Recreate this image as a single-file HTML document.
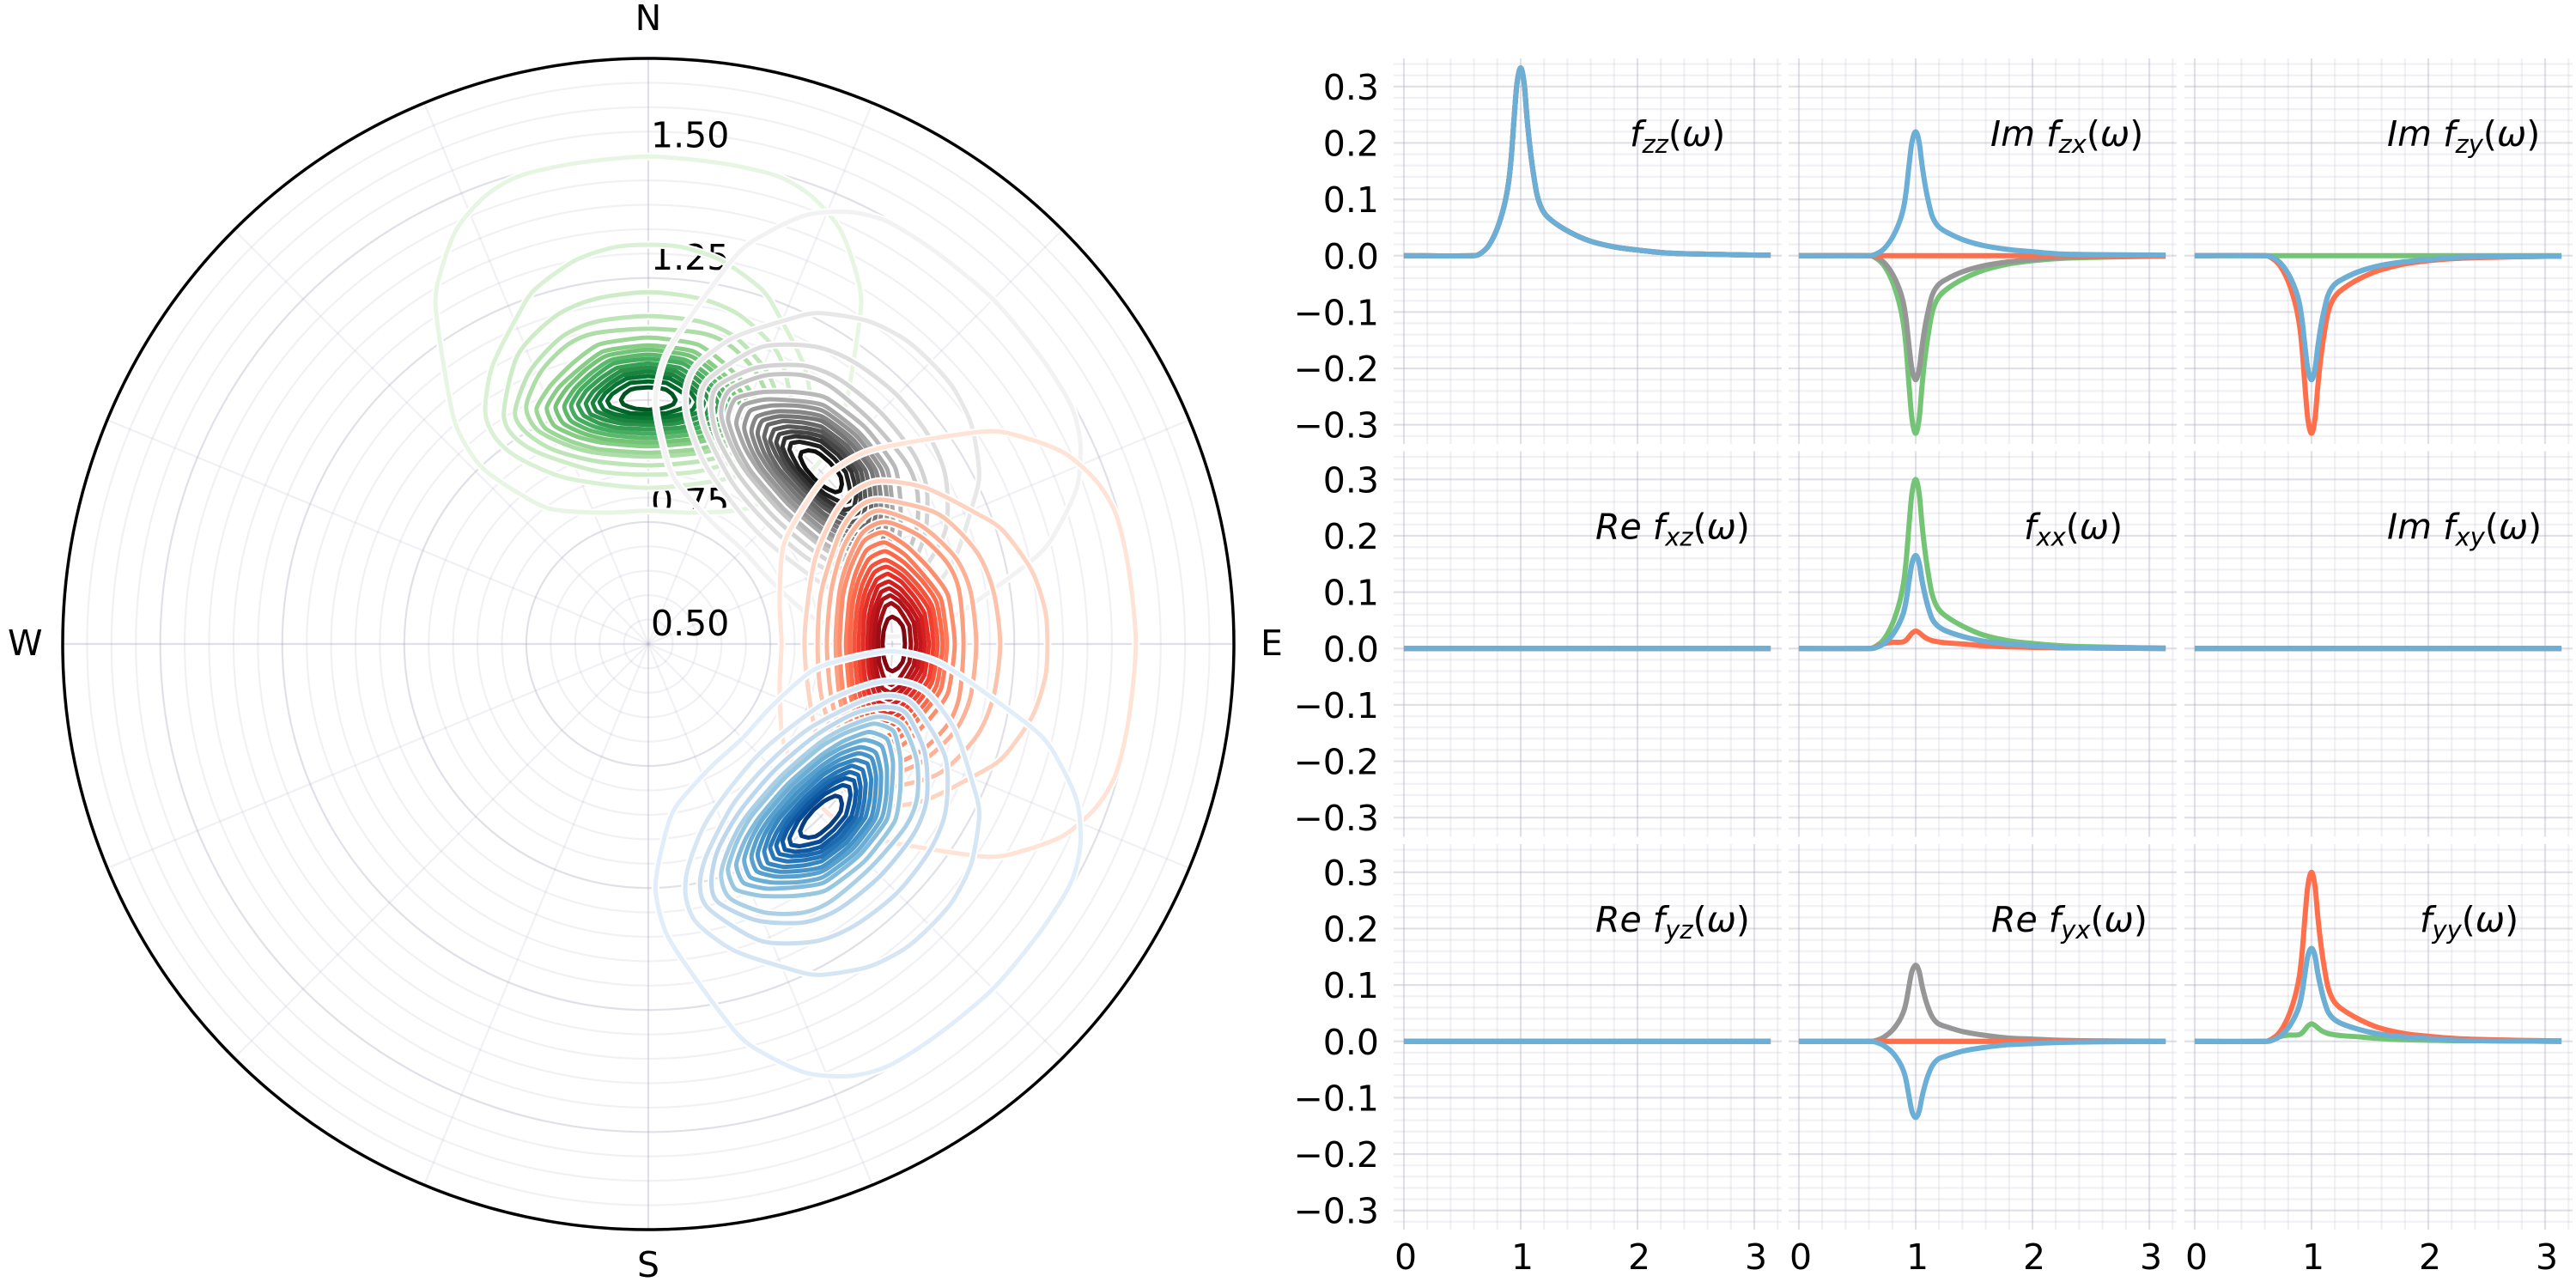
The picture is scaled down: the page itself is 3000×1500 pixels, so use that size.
<!DOCTYPE html>
<html lang="en">
<head>
<meta charset="utf-8">
<title>Polar density contours and frequency response grid</title>
<style>
html,body{margin:0;padding:0;background:#fff;}
svg{display:block;}
text{font-family:"DejaVu Sans","Liberation Sans",sans-serif;fill:#000;}
</style>
</head>
<body>
<svg id="figure" xmlns="http://www.w3.org/2000/svg" width="3000" height="1500" viewBox="0 0 3000 1500">
  <rect x="0" y="0" width="3000" height="1500" fill="#ffffff"/>
  <g id="polar"></g>
  <g id="panels"></g>
</svg>
<script>
/* ---------- polar chart data ---------- */
const radialTickValues = [0.5, 0.75, 1.0, 1.25, 1.5];
const radialTickLabels = ["0.50", "0.75", "1.00", "1.25", "1.50"];
const compassNames = ["N", "E", "S", "W"];
const blobNames = ["green", "grey", "red", "blue"];
const blobAzimuths = [0, 45, 90, 135];
/* half-contours, outermost level first: distance across the blob axis (radial units) */
const contourAcross = [
  [0,.15,.264,.334,.391,.422,.436,.412,.391,.343,.264,.197,.088,0],
  [0,.07,.15,.232,.267,.32,.334,.313,.267,.167,0],
  [0,.109,.19,.267,.296,.278,.225,.109,0],
  [0,.109,.179,.243,.273,.252,.197,.109,0],
  [0,.109,.167,.22,.25,.229,.172,.109,0],
  [0,.1,.153,.2,.229,.211,.158,.1,0],
  [0,.091,.139,.183,.208,.192,.143,.091,0],
  [0,.084,.127,.167,.19,.174,.132,.084,0],
  [0,.076,.116,.151,.172,.158,.12,.076,0],
  [0,.07,.106,.139,.158,.146,.109,.07,0],
  [0,.063,.097,.127,.144,.132,.1,.063,0],
  [0,.056,.086,.113,.128,.118,.088,.056,0],
  [0,.051,.077,.1,.114,.106,.079,.051,0],
  [0,.044,.067,.088,.1,.091,.069,.044,0],
  [0,.037,.056,.074,.084,.077,.058,.037,0],
  [0,.025,.037,.049,.056,.051,.039,.025,0]
];
/* matching radial coordinate along the blob axis */
const contourRho = [
  [1.499,1.485,1.459,1.418,1.353,1.274,1.195,1.028,.94,.864,.808,.776,.769,.773],
  [1.318,1.313,1.286,1.227,1.174,1.068,.975,.922,.882,.84,.82],
  [1.221,1.207,1.172,1.093,.975,.928,.892,.855,.847],
  [1.172,1.16,1.128,1.058,.975,.935,.899,.875,.866],
  [1.146,1.137,1.112,1.058,.987,.94,.91,.892,.884],
  [1.128,1.114,1.077,1.03,.982,.942,.915,.899,.892],
  [1.112,1.1,1.066,1.026,.984,.947,.924,.912,.905],
  [1.103,1.091,1.063,1.024,.986,.952,.931,.919,.913],
  [1.093,1.082,1.056,1.023,.987,.957,.938,.928,.922],
  [1.084,1.075,1.051,1.021,.989,.963,.945,.936,.931],
  [1.075,1.066,1.045,1.019,.991,.968,.952,.943,.94],
  [1.066,1.059,1.04,1.017,.993,.971,.959,.952,.949],
  [1.058,1.051,1.035,1.015,.994,.977,.966,.959,.956],
  [1.049,1.044,1.031,1.014,.996,.98,.971,.966,.963],
  [1.038,1.035,1.024,1.012,.998,.986,.979,.973,.971],
  [1.026,1.024,1.021,1.012,1.0,.991,.986,.982,.98]
];

/* ---------- spectrum panel data ---------- */
const omega = [0,.6,.65,.723,.797,.858,.895,.919,.944,.968,1,1.03,1.054,1.078,1.103,1.14,1.189,1.262,1.409,1.58,1.79,2,2.24,2.52,3.14];
const zeroValues = [0,0,0,0,0,0,0,0,0,0,0,0,0,0,0,0,0,0,0,0,0,0,0,0,0];
const fzzValues = [0,0,.003,.017,.047,.088,.128,.174,.245,.305,.333,.305,.245,.195,.154,.108,.08,.063,.043,.027,.016,.01,.005,.003,.001];
const imFzxBlue = [0,0,.002,.011,.031,.058,.084,.115,.162,.201,.22,.201,.162,.129,.102,.071,.053,.042,.028,.018,.011,.007,.003,.002,.001];
const imFzxGrey = [0,0,-.002,-.011,-.031,-.058,-.084,-.115,-.162,-.201,-.22,-.201,-.162,-.129,-.102,-.071,-.053,-.042,-.028,-.018,-.011,-.007,-.003,-.002,-.001];
const imFzxGreen = [0,0,-.003,-.016,-.044,-.083,-.121,-.165,-.232,-.289,-.315,-.289,-.232,-.184,-.146,-.102,-.076,-.06,-.041,-.026,-.015,-.009,-.005,-.003,-.001];
const imFzyBlue = [0,0,-.002,-.011,-.031,-.058,-.084,-.115,-.162,-.201,-.22,-.201,-.162,-.129,-.102,-.071,-.053,-.042,-.028,-.018,-.011,-.007,-.003,-.002,-.001];
const imFzyRed = [0,0,-.003,-.016,-.044,-.083,-.121,-.165,-.232,-.289,-.315,-.289,-.232,-.184,-.146,-.102,-.076,-.06,-.041,-.026,-.015,-.009,-.005,-.003,-.001];
const fxxGreen = [0,0,.003,.015,.042,.079,.115,.157,.221,.275,.30,.275,.221,.176,.139,.097,.072,.057,.039,.024,.014,.009,.005,.003,.001];
const fxxBlue = [0,0,.001,.008,.023,.044,.063,.086,.121,.151,.165,.151,.121,.097,.076,.053,.04,.031,.021,.013,.008,.005,.002,.001,0];
const fxxRed = [0,0,.002,.008,.011,.011,.012,.015,.021,.027,.031,.028,.024,.02,.017,.014,.012,.01,.008,.005,.003,.002,.001,.001,0];
const reFyxGrey = [0,0,.001,.007,.019,.036,.052,.07,.099,.124,.135,.124,.099,.079,.062,.044,.032,.026,.017,.011,.006,.004,.002,.001,0];
const reFyxBlue = [0,0,-.001,-.007,-.019,-.036,-.052,-.07,-.099,-.124,-.135,-.124,-.099,-.079,-.062,-.044,-.032,-.026,-.017,-.011,-.006,-.004,-.002,-.001,0];
const fyyRed = [0,0,.003,.015,.042,.079,.115,.157,.221,.275,.30,.275,.221,.176,.139,.097,.072,.057,.039,.024,.014,.009,.005,.003,.001];
const fyyBlue = [0,0,.001,.008,.023,.044,.063,.086,.121,.151,.165,.151,.121,.097,.076,.053,.04,.031,.021,.013,.008,.005,.002,.001,0];
const fyyGreen = [0,0,.002,.008,.011,.011,.012,.015,.021,.027,.031,.028,.024,.02,.017,.014,.012,.01,.008,.005,.003,.002,.001,.001,0];
const xTickValues = [0,1,2,3];
const xTickLabels = ["0","1","2","3"];
const yTickValues = [0.3,0.2,0.1,0,-0.1,-0.2,-0.3];
const yTickLabels = ["0.3","0.2","0.1","0.0","\u22120.1","\u22120.2","\u22120.3"];

/* ---------- styling and layout ---------- */
const NS = "http://www.w3.org/2000/svg";
const GRID_MAJOR = "rgba(170,170,190,0.36)";
const GRID_MINOR = "rgba(170,170,190,0.16)";
const FONT = 41;
const LINE_COLORS = {green:"#74c476", grey:"#969696", red:"#ff6f4b", blue:"#6baed6"};
const RAMPS = {
  green:["#f7fcf5","#e5f5e0","#c7e9c0","#a1d99b","#74c476","#41ab5d","#238b45","#006d2c","#00441b"],
  grey:["#ffffff","#f0f0f0","#d9d9d9","#bdbdbd","#969696","#737373","#525252","#252525","#000000"],
  red:["#fff5f0","#fee0d2","#fcbba1","#fc9272","#fb6a4a","#ef3b2c","#cb181d","#a50f15","#67000d"],
  blue:["#f7fbff","#deebf7","#c6dbef","#9ecae1","#6baed6","#4292c6","#2171b5","#08519c","#08306b"]
};
const POLAR = {cx:755, cy:750, radius:682, rhoMin:0.5, rhoMax:1.7};

function make(tag, parent, attrs){
  const e = document.createElementNS(NS, tag);
  for (const k in attrs) e.setAttribute(k, attrs[k]);
  parent.appendChild(e);
  return e;
}
function rampColor(name, t){
  const stops = RAMPS[name];
  const p = Math.min(0.9999, Math.max(0, t)) * (stops.length - 1);
  const i = Math.floor(p), f = p - i;
  const hex = s => [1,3,5].map(o => parseInt(s.substr(o,2),16));
  const a = hex(stops[i]), b = hex(stops[i+1]);
  const c = a.map((v,j) => Math.round(v + (b[j]-v)*f));
  return "rgb(" + c.join(",") + ")";
}

/* ---------- polar axis functions ---------- */
const rhoScale = rho => (rho - POLAR.rhoMin) / (POLAR.rhoMax - POLAR.rhoMin) * POLAR.radius;
const lengthScale = d => d / (POLAR.rhoMax - POLAR.rhoMin) * POLAR.radius;
function polarPoint(azDeg, across, rho){
  const a = azDeg * Math.PI / 180;
  const r = rhoScale(rho), t = lengthScale(across);
  return [POLAR.cx + r*Math.sin(a) + t*Math.cos(a), POLAR.cy - r*Math.cos(a) + t*Math.sin(a)];
}
function closedCurve(pts, k){
  const n = pts.length;
  let d = "M" + pts[0][0].toFixed(1) + " " + pts[0][1].toFixed(1);
  for (let i = 0; i < n; i++){
    const p0 = pts[(i-1+n)%n], p1 = pts[i], p2 = pts[(i+1)%n], p3 = pts[(i+2)%n];
    const c1x = p1[0] + (p2[0]-p0[0])/6*k, c1y = p1[1] + (p2[1]-p0[1])/6*k;
    const c2x = p2[0] - (p3[0]-p1[0])/6*k, c2y = p2[1] - (p3[1]-p1[1])/6*k;
    d += " C" + c1x.toFixed(1) + " " + c1y.toFixed(1) + " " + c2x.toFixed(1) + " " + c2y.toFixed(1) + " " + p2[0].toFixed(1) + " " + p2[1].toFixed(1);
  }
  return d + " Z";
}

const polar = document.getElementById("polar");

/* rings */
for (let k = 1; k <= 24; k++){
  const rho = POLAR.rhoMin + k*0.05;
  const major = k % 5 === 0;
  const ring = make("circle", polar, {cx:POLAR.cx, cy:POLAR.cy, r:rhoScale(rho).toFixed(2), fill:"none", stroke: major ? GRID_MAJOR : GRID_MINOR, "stroke-width":2.2});
  
  
}
/* spokes */
for (let k = 0; k < 16; k++){
  const az = k*22.5;
  const end = polarPoint(az, 0, POLAR.rhoMax);
  const spoke = make("line", polar, {x1:POLAR.cx, y1:POLAR.cy, x2:end[0].toFixed(2), y2:end[1].toFixed(2), stroke: k % 4 === 0 ? GRID_MAJOR : GRID_MINOR, "stroke-width":2.2});
  
  
}
/* radial tick labels */
radialTickValues.forEach((v,i) => {
  const t = make("text", polar, {x:POLAR.cx+3, y:(POLAR.cy - rhoScale(v) - 10).toFixed(1), "font-size":FONT});
  t.textContent = radialTickLabels[i];
  
  
});
/* contours: each blob paints all of its white halos first, then its coloured levels */
blobNames.forEach((blob, b) => {
  const group = make("g", polar, {});
  
  
  const paths = contourAcross.map((acrossRow, level) => {
    const rhoRow = contourRho[level];
    const pts = [];
    acrossRow.forEach((a,i) => pts.push(polarPoint(blobAzimuths[b], a, rhoRow[i])));
    for (let i = acrossRow.length-2; i > 0; i--) pts.push(polarPoint(blobAzimuths[b], -acrossRow[i], rhoRow[i]));
    const smooth = level < 5 ? 0.8 : (level < 10 ? 0.6 : (level < 13 ? 0.3 : 0.15));
    return closedCurve(pts, smooth);
  });
  paths.forEach(d => {
    const halo = make("path", group, {d:d, fill:"none", stroke:"#ffffff", "stroke-width":9, "stroke-linejoin":"round"});
    
    
  });
  paths.forEach((d, level) => {
    const line = make("path", group, {d:d, fill:"none", stroke:rampColor(blob, 0.11 + level/15*0.84), "stroke-width":5, "stroke-linejoin":"round"});
    
    
  });
});
/* outer frame */
const frame = make("circle", polar, {cx:POLAR.cx, cy:POLAR.cy, r:POLAR.radius, fill:"none", stroke:"#000", "stroke-width":3.5});


/* compass labels */
[[755,35,"middle"],[1468,763,"start"],[755,1487,"middle"],[9,763,"start"]].forEach((spot,i) => {
  const t = make("text", polar, {x:spot[0], y:spot[1], "text-anchor":spot[2], "font-size":FONT});
  t.textContent = compassNames[i];
  
  
});

/* ---------- panels ---------- */
const PANEL = {width:452, height:449, xMin:-0.088, xMax:3.235, yMin:-0.334, yMax:0.35};
const panelLefts = [1623, 2083, 2544];
const panelTops = [68, 525.5, 983];
const allBlue = (v) => [["green",v],["grey",v],["red",v],["blue",v]];
const panelDefs = [
  {name:"fzz", prefix:"", sub:"zz", tx:275, series:allBlue(fzzValues)},
  {name:"im-fzx", prefix:"Im ", sub:"zx", tx:235, series:[["green",imFzxGreen],["grey",imFzxGrey],["red",zeroValues],["blue",imFzxBlue]]},
  {name:"im-fzy", prefix:"Im ", sub:"zy", tx:236, series:[["green",zeroValues],["grey",imFzyBlue],["red",imFzyRed],["blue",imFzyBlue]]},
  {name:"re-fxz", prefix:"Re ", sub:"xz", tx:235, series:allBlue(zeroValues)},
  {name:"fxx", prefix:"", sub:"xx", tx:274, series:[["green",fxxGreen],["grey",fxxBlue],["red",fxxRed],["blue",fxxBlue]]},
  {name:"im-fxy", prefix:"Im ", sub:"xy", tx:236, series:allBlue(zeroValues)},
  {name:"re-fyz", prefix:"Re ", sub:"yz", tx:235, series:allBlue(zeroValues)},
  {name:"re-fyx", prefix:"Re ", sub:"yx", tx:236, series:[["green",zeroValues],["grey",reFyxGrey],["red",zeroValues],["blue",reFyxBlue]]},
  {name:"fyy", prefix:"", sub:"yy", tx:274, series:[["green",fyyGreen],["grey",fyyBlue],["red",fyyRed],["blue",fyyBlue]]}
];

function curvePath(xs, ys, sx, sy){
  const n = xs.length;
  const m = xs.map((x,i) => {
    if (i === 0 || i === n-1) return 0;
    return (ys[i+1]-ys[i-1]) / (xs[i+1]-xs[i-1]);
  });
  let d = "M" + sx(xs[0]).toFixed(2) + " " + sy(ys[0]).toFixed(2);
  for (let i = 0; i < n-1; i++){
    const dx = xs[i+1]-xs[i];
    d += " C" + sx(xs[i]+dx/3).toFixed(2) + " " + sy(ys[i]+m[i]*dx/3).toFixed(2) +
         " " + sx(xs[i+1]-dx/3).toFixed(2) + " " + sy(ys[i+1]-m[i+1]*dx/3).toFixed(2) +
         " " + sx(xs[i+1]).toFixed(2) + " " + sy(ys[i+1]).toFixed(2);
  }
  return d;
}

const panelsRoot = document.getElementById("panels");
panelDefs.forEach((def, idx) => {
  const col = idx % 3, row = Math.floor(idx/3);
  const left = panelLefts[col], top = panelTops[row];
  const right = left + PANEL.width, bottom = top + PANEL.height;
  const sx = v => left + (v - PANEL.xMin) / (PANEL.xMax - PANEL.xMin) * PANEL.width;
  const sy = v => top + (PANEL.yMax - v) / (PANEL.yMax - PANEL.yMin) * PANEL.height;
  const g = make("g", panelsRoot, {});
  
  

  for (let k = 0; k <= 16; k++){
    const major = k % 5 === 0;
    const gx = sx(k*0.2);
    const v = make("line", g, {x1:gx.toFixed(2), x2:gx.toFixed(2), y1:top, y2:bottom, stroke: major ? GRID_MAJOR : GRID_MINOR, "stroke-width":2.2});
    
    
  }
  for (let k = -16; k <= 17; k++){
    const major = k % 5 === 0;
    const gy = sy(k*0.02);
    const h = make("line", g, {x1:left, x2:right, y1:gy.toFixed(2), y2:gy.toFixed(2), stroke: major ? GRID_MAJOR : GRID_MINOR, "stroke-width":2.2});
    
    
  }
  def.series.forEach(s => {
    const p = make("path", g, {d:curvePath(omega, s[1], sx, sy), fill:"none", stroke:LINE_COLORS[s[0]], "stroke-width":6, "stroke-linejoin":"round"});
    
    
  });
  if (col === 0){
    yTickValues.forEach((v,i) => {
      const t = make("text", g, {x:left-17, y:(sy(v)+15).toFixed(1), "text-anchor":"end", "font-size":FONT});
      t.textContent = yTickLabels[i];
      
      
    });
  }
  if (row === 2){
    xTickValues.forEach((v,i) => {
      const t = make("text", g, {x:(sx(v)+2).toFixed(1), y:1478, "text-anchor":"middle", "font-size":FONT});
      t.textContent = xTickLabels[i];
      
      
    });
  }
  const label = make("text", g, {x:left+def.tx, y:top+102, "font-size":FONT, "font-style":"italic"});
  
  
  const main = make("tspan", label, {});
  main.textContent = def.prefix + "f";
  const sub = make("tspan", label, {"font-size":29, dy:8});
  sub.textContent = def.sub;
  const open = make("tspan", label, {dy:-8, "font-style":"normal"});
  open.textContent = "(";
  const w = make("tspan", label, {});
  w.textContent = "\u03c9";
  const close = make("tspan", label, {"font-style":"normal"});
  close.textContent = ")";
});
</script>
</body>
</html>
